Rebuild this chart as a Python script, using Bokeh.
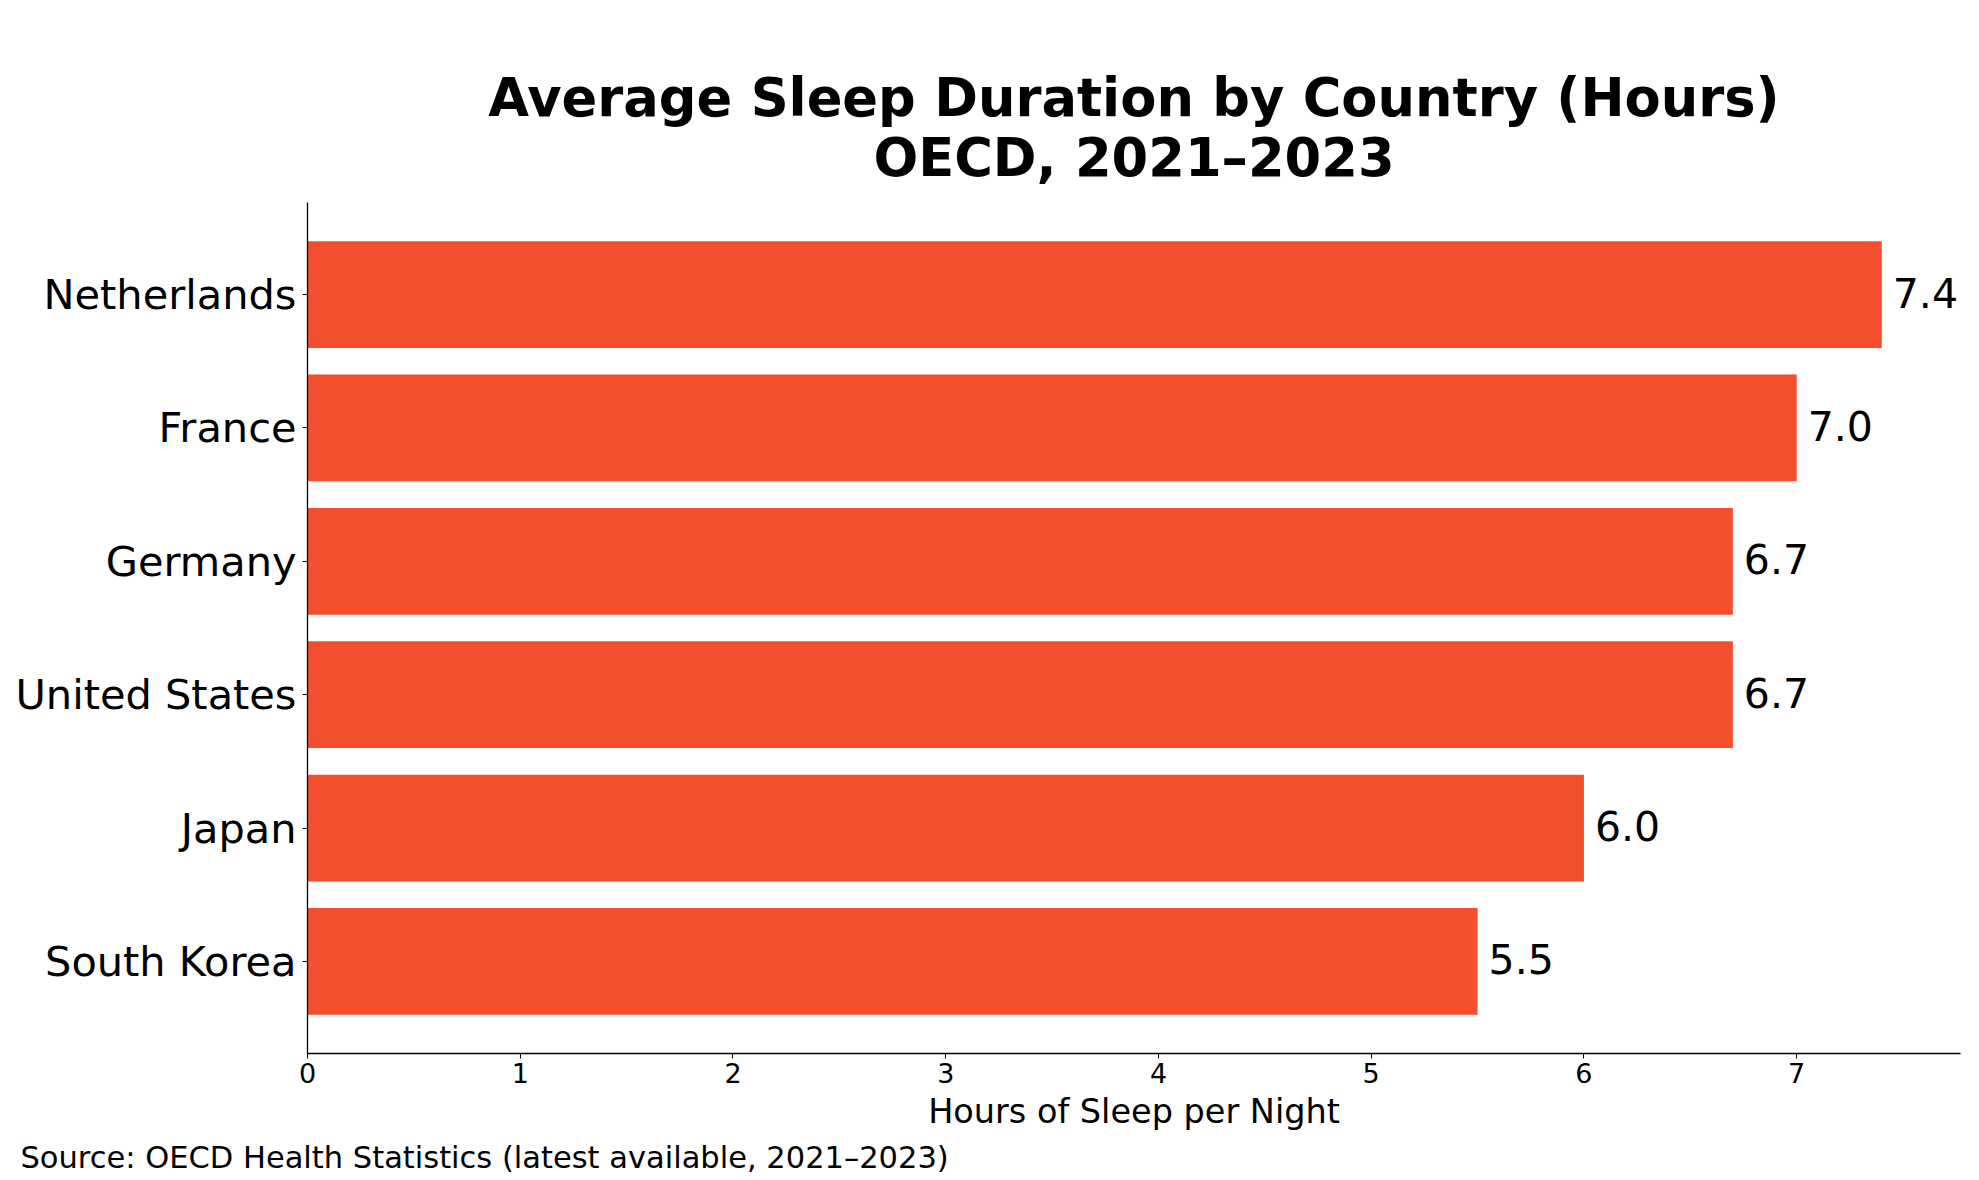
from bokeh.plotting import figure
from bokeh.models import FactorRange, Range1d, Title, FixedTicker, ColumnDataSource
from bokeh.core.properties import value
from bokeh.embed import file_html
from bokeh.resources import INLINE

countries = ["South Korea", "Japan", "United States", "Germany", "France", "Netherlands"]
hours = [5.5, 6.0, 6.7, 6.7, 7.0, 7.4]
x_ticks = [0, 1, 2, 3, 4, 5, 6, 7]
title_lines = ["Average Sleep Duration by Country (Hours)", "OECD, 2021–2023"]
source_note = "Source: OECD Health Statistics (latest available, 2021–2023)"

BAR = "#F34F2F"
FONT = "DejaVu Sans"

src = ColumnDataSource(dict(
    country=countries,
    hours=hours,
    label=[f"{h:.1f}" for h in hours],
))

p = figure(
    width=1971, height=1180,
    y_range=FactorRange(factors=countries, range_padding=0.19, range_padding_units="absolute"),
    x_range=Range1d(0, max(hours) * 1.05),
    output_backend="svg", toolbar_location=None,
    min_border_left=307, min_border_right=11, min_border_top=202, min_border_bottom=127,
)
p.title.text = ""

p.hbar(y="country", right="hours", height=0.8, left=0, source=src,
       fill_color=BAR, line_color=None)

p.text(x="hours", y="country", text="label", source=src,
       x_offset=11, y_offset=-2, text_align="left", text_baseline="middle",
       text_font=value(FONT), text_font_size="41px", text_color="black")

p.outline_line_color = None
p.xgrid.grid_line_color = None
p.ygrid.grid_line_color = None

xa = p.xaxis[0]
xa.ticker = FixedTicker(ticks=x_ticks)
xa.minor_tick_line_color = None
xa.major_tick_in = 0
xa.major_tick_out = 5
xa.major_label_standoff = 4
xa.major_label_text_font = FONT
xa.major_label_text_font_size = "27px"
xa.major_label_text_color = "black"
xa.axis_line_color = "black"
xa.axis_line_width = 1.3
xa.major_tick_line_color = "black"
xa.axis_label = "Hours of Sleep per Night"
xa.axis_label_text_font = FONT
xa.axis_label_text_font_size = "33.5px"
xa.axis_label_text_font_style = "normal"
xa.axis_label_text_color = "black"
xa.axis_label_standoff = 6

ya = p.yaxis[0]
ya.minor_tick_line_color = None
ya.major_tick_in = 0
ya.major_tick_out = 5
ya.major_label_standoff = 6
ya.major_label_text_font = FONT
ya.major_label_text_font_size = "41.5px"
ya.major_label_text_color = "black"
ya.axis_line_color = "black"
ya.axis_line_width = 1.3
ya.major_tick_line_color = "black"

t2 = Title(text=title_lines[1], align="center", text_font=FONT,
           text_font_size="52.7px", text_font_style="bold", text_color="black", standoff=29)
p.add_layout(t2, "above")
t1 = Title(text=title_lines[0], align="center", text_font=FONT,
           text_font_size="52.7px", text_font_style="bold", text_color="black", standoff=-35)
p.add_layout(t1, "above")

s = Title(text=source_note, align="left",
          offset=-287, text_font=FONT, text_font_size="30.5px", text_font_style="normal",
          text_color="black", standoff=8)
p.add_layout(s, "below")

open("out.html", "w").write(file_html(p, INLINE))
